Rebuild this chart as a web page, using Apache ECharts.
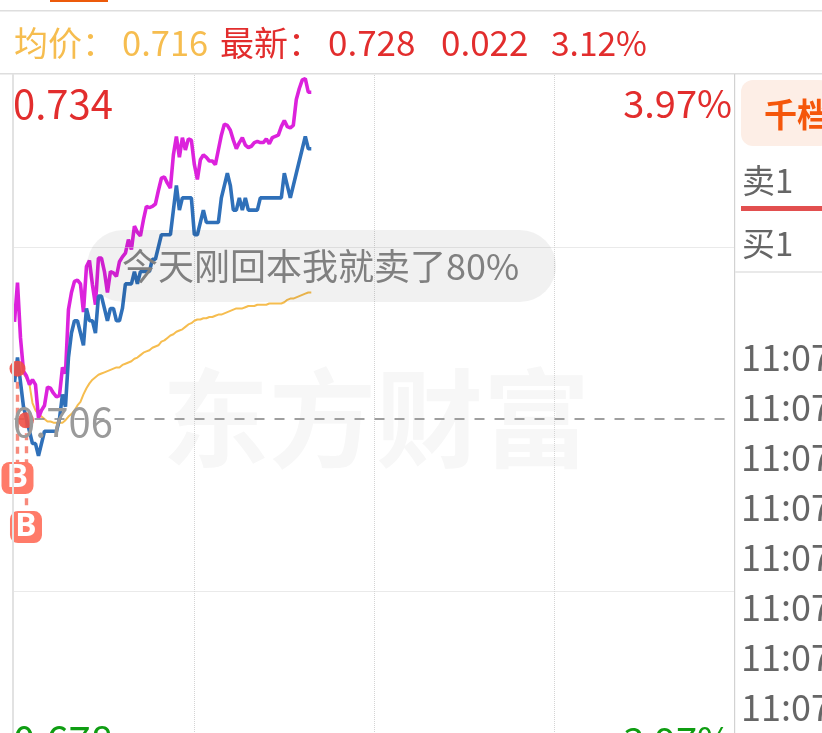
<!DOCTYPE html>
<html><head><meta charset="utf-8">
<style>html,body{margin:0;padding:0;background:#fff;overflow:hidden;height:733px}#c{width:822px;height:790px}</style>
<script src="https://cdn.jsdelivr.net/npm/echarts@6/dist/echarts.min.js"></script>
</head><body><div id="c"></div>
<script>
const pricePurple=[.7139,.7171,.7126,.7099,.7095,.7088,.7092,.7088,.7061,.7067,.7071,.7086,.7085,.7081,.7078,.7079,.7102,.7097,.7149,.7163,.7172,.7173,.7170,.7147,.7184,.7189,.7169,.7153,.7191,.7191,.7180,.7163,.7180,.7179,.7176,.7188,.7192,.7195,.7206,.7198,.7217,.7212,.7209,.7222,.7233,.7232,.7233,.7235,.7246,.7256,.7257,.7252,.7248,.7275,.7290,.7273,.7289,.7279,.7288,.7287,.7267,.7255,.7271,.7275,.7273,.7270,.7270,.7267,.7279,.7291,.7300,.7299,.7295,.7287,.7280,.7285,.7289,.7283,.7281,.7282,.7285,.7286,.7285,.7285,.7288,.7284,.7289,.7290,.7291,.7298,.7303,.7298,.7297,.7299,.7320,.7329,.7336,.7337,.7326,.7326];
const priceBlue=[.709,.711,.709,.707,.706,.705,.704,.704,.703,.704,.705,.705,.705,.705,.705,.706,.708,.707,.711,.713,.714,.714,.713,.712,.715,.714,.714,.713,.716,.716,.715,.714,.715,.715,.714,.714,.715,.717,.717,.717,.718,.717,.718,.718,.718,.718,.719,.719,.720,.721,.721,.721,.721,.723,.725,.723,.724,.724,.724,.724,.721,.721,.722,.723,.722,.722,.722,.722,.722,.724,.725,.726,.725,.723,.723,.724,.723,.724,.723,.723,.723,.723,.724,.724,.724,.724,.724,.724,.724,.724,.726,.725,.724,.725,.726,.727,.728,.729,.728,.728];
const priceAvg=[null,null,.7099,.7097,.7093,.7088,.7073,.7067,.7064,.7062,.7060,.7058,.7058,.7057,.7057,.7057,.7057,.7059,.7062,.7064,.7067,.7071,.7074,.7080,.7085,.7089,.7092,.7094,.7096,.7097,.7098,.7099,.7100,.7101,.7102,.7102,.7104,.7105,.7106,.7107,.7109,.7110,.7112,.7114,.7115,.7116,.7118,.7119,.7120,.7123,.7124,.7126,.7128,.7129,.7131,.7132,.7133,.7135,.7137,.7138,.7140,.7141,.7141,.7142,.7142,.7143,.7143,.7144,.7145,.7145,.7146,.7147,.7148,.7149,.7150,.7150,.7150,.7151,.7152,.7152,.7152,.7153,.7153,.7153,.7153,.7154,.7154,.7154,.7154,.7154,.7155,.7157,.7158,.7158,.7159,.7160,.7161,.7162,.7163,.7163];
const buyMinutes=[1,3.83];
const buyPrices=[.7101,.7059];
const badgePrices=[.7012,.6972];
const gridPrices=[.692,.720];
const basePrice=.706;
const priceLabels=['0.734','0.706','0.678'];
const pctLabels=['3.97%','3.97%'];
const timeRows=['11:07','11:07','11:07','11:07','11:07','11:07','11:07','11:07'];

const toXY=a=>a.map((v,i)=>[i,v]);
const CJK='"Noto Sans CJK SC","Noto Sans",sans-serif';
const RED='#e22d2d',YEL='#f6bd4f',GRN='#0f9d12';
const T=(text,x,y,fill,size,opt={})=>({type:'text',z:opt.z??50,style:{text,x,y,fill,font:`${opt.weight||'normal'} ${size}px ${opt.family||CJK}`,textAlign:opt.align||'left',textVerticalAlign:'middle'}});
const R=(x,y,w,h,fill,r=0,z=40)=>({type:'rect',z,shape:{x,y,width:w,height:h,r},style:{fill}});

const graphics=[
 R(50,0,58,2,'#ec5a0a'),
 R(0,10,822,1.5,'#dedede'),
 R(0,73,822,1.5,'#dedede'),
 R(12,74,2,716,'#e2e2e2'),
 R(734,74,1.2,716,'#d2d2d2'),
 T('东方财富',376,418,'#f7f7f7',107,{weight:'bold',align:'center',z:0}),
 T('均价：',14,43,YEL,34),
 T('0.716',122,43,YEL,34.5),
 T('最新：',220,43,RED,34),
 T('0.728',328,43,RED,35),
 T('0.022',441,43,RED,35),
 T('3.12%',551,43,RED,33.5),
 T(priceLabels[0],13,104,RED,40),
 T(priceLabels[1],13,422,'#9a9a9a',40),
 T(priceLabels[2],13,741,GRN,40),
 T(pctLabels[0],732,104,RED,38,{align:'right'}),
 T(pctLabels[1],732,741,GRN,38,{align:'right'}),
 R(87,230,469,72,'rgba(0,0,0,0.055)',36,45),
 T('今天刚回本我就卖了80%',122,266,'#808080',36),
 R(741,80,90,66,'#fdeee6',12),
 T('千档',764,114,'#f5560a',33,{weight:'bold'}),
 T('卖1',742,180,'#666',33),
 R(741,206,81,5,'#e24f4f'),
 T('买1',742,243,'#666',33),
 R(735,271,87,2,'#e9e9e9'),
 ...timeRows.map((t,i)=>T(t,741,357+i*50,'#666',36))
];

const chart=echarts.init(document.getElementById('c'),null,{renderer:'canvas'});
chart.setOption({
 animation:false,backgroundColor:'#fff',
 grid:{left:14.5,width:719.5,top:75,height:688,containLabel:false},
 xAxis:{type:'value',min:0,max:240,interval:60,axisLine:{show:false},axisTick:{show:false},axisLabel:{show:false},
  splitLine:{show:true,showMinLine:false,showMaxLine:false,lineStyle:{color:'#d4d4d4',type:'dotted',width:1}}},
 yAxis:{type:'value',min:.678,max:.734,axisLine:{show:false},axisTick:{show:false},axisLabel:{show:false},splitLine:{show:false}},
 graphic:graphics,
 series:[
  {name:'均价',type:'line',data:toXY(priceAvg),showSymbol:false,z:3,lineStyle:{color:YEL,width:2},itemStyle:{color:YEL},
   markLine:{silent:true,precision:4,symbol:'none',label:{show:false},data:gridPrices.map(v=>({yAxis:v,lineStyle:{color:'#d4d4d4',type:'dotted',width:1}}))}},
  {name:'基准',type:'line',data:toXY(pricePurple),showSymbol:false,z:4,lineStyle:{color:'#dc22dc',width:3.6},itemStyle:{color:'#dc22dc'},
   markLine:{silent:true,precision:4,symbol:'none',label:{show:false},data:[{yAxis:basePrice,lineStyle:{color:'#888',type:[10,10],width:1.6}}]}},
  {name:'最新',type:'line',data:toXY(priceBlue),showSymbol:false,z:5,lineStyle:{color:'#2f70b9',width:3.6},itemStyle:{color:'#2f70b9'}},
  {name:'买点',type:'scatter',z:7,symbol:'circle',symbolSize:16,itemStyle:{color:'rgba(238,80,70,0.9)',opacity:1},
   data:buyMinutes.map((m,i)=>[m,buyPrices[i]]),
   markLine:{silent:true,precision:4,symbol:'none',label:{show:false},lineStyle:{color:'#f78a7c',type:[7,6],width:3.4},
    data:buyMinutes.map((m,i)=>[{coord:[m,buyPrices[i]]},{coord:[m,badgePrices[i]]}])}},
  {name:'B',type:'scatter',z:8,symbol:'roundRect',symbolSize:32,itemStyle:{color:'#ff7b69',opacity:1},
   data:buyMinutes.map((m,i)=>[m,badgePrices[i]]),
   label:{show:true,position:'inside',formatter:'B',color:'#fff',fontSize:32,fontWeight:'bold',fontFamily:'"Noto Sans",sans-serif'}}
 ]
});
</script></body></html>
